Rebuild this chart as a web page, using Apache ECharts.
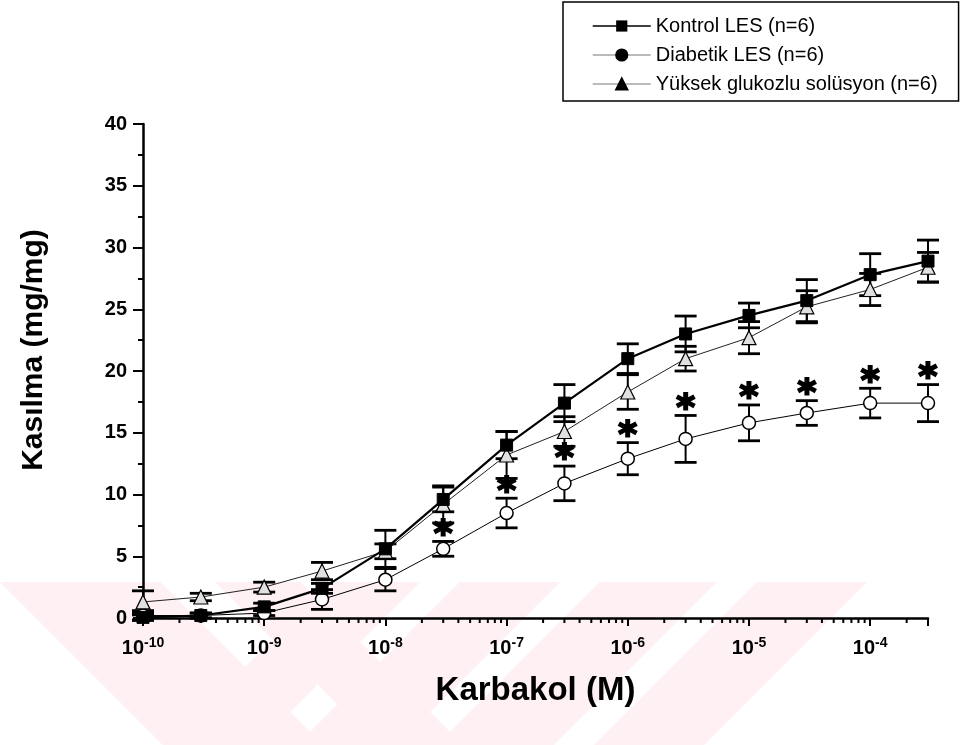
<!DOCTYPE html>
<html><head><meta charset="utf-8">
<script src="https://cdn.jsdelivr.net/npm/echarts@6/dist/echarts.min.js"></script>
<style>html,body{margin:0;padding:0;background:#fff}#c{width:966px;height:745px}</style>
</head><body><div id="c"></div>
<script>
// ---- data ----
const concentrations = [1e-10,3e-10,1e-9,3e-9,1e-8,3e-8,1e-7,3e-7,1e-6,3e-6,1e-5,3e-5,1e-4,3e-4];
const seriesNames = ['Kontrol LES (n=6)','Diabetik LES (n=6)','Yüksek glukozlu solüsyon (n=6)'];
const kontrolMean  = [0.05,0.2,0.9,2.4,5.6,9.6,14.0,17.4,21.0,23.0,24.5,25.7,27.8,28.9];
const kontrolSem   = [0.2,0.2,0.3,0.4,1.5,1.0,1.1,1.5,1.2,1.45,1.0,1.7,1.7,1.7];
const diabetikMean = [0.2,0.2,0.4,1.5,3.1,5.6,8.5,10.9,12.9,14.5,15.8,16.6,17.4,17.4];
const diabetikSem  = [0.4,0.2,0.2,0.8,0.9,0.6,1.2,1.4,1.3,1.9,1.45,1.0,1.2,1.5];
const glukozMean   = [1.3,1.7,2.5,3.8,5.4,9.2,13.2,15.1,18.3,21.0,22.7,25.2,26.6,28.4];
const glukozSem    = [0.9,0.3,0.4,0.7,0.6,1.5,1.9,1.2,1.4,1.0,1.3,1.3,1.3,1.2];
const significant  = [0,0,0,0,0,1,1,1,1,1,1,1,1,1];
const xMin = 1e-10, xMax = 3e-4;
const yMin = 0, yMax = 40, yStep = 5;
const xTitle = 'Karbakol (M)';
const yTitle = 'Kasılma (mg/mg)';

// minor log ticks (2..9 × 10^n)
const minorTickValues = [];
for (let e = -10; e <= -4; e++) {
  for (let k = 2; k <= 9; k++) {
    const v = k * Math.pow(10, e);
    if (v <= xMax * 1.0001) minorTickValues.push(v);
  }
}

const FONT = "'Liberation Sans', Arial, sans-serif";

function errorSeries(mean, sem, flags) {
  return {
    type: 'custom', z: 2, silent: true, clip: false,
    data: concentrations.map((c, i) => [c, mean[i] - sem[i], mean[i] + sem[i], flags ? flags[i] : 0]),
    encode: { x: 0, y: [1, 2] },
    renderItem(params, api) {
      const x = api.value(0);
      const lo = api.coord([x, api.value(1)]);
      const hi = api.coord([x, api.value(2)]);
      const hw = 11;
      const children = [
        { type: 'line', shape: { x1: lo[0], y1: lo[1], x2: hi[0], y2: hi[1] }, style: { stroke: '#000', lineWidth: 2 } },
        { type: 'line', shape: { x1: lo[0] - hw, y1: lo[1], x2: lo[0] + hw, y2: lo[1] }, style: { stroke: '#000', lineWidth: 2.8 } },
        { type: 'line', shape: { x1: hi[0] - hw, y1: hi[1], x2: hi[0] + hw, y2: hi[1] }, style: { stroke: '#000', lineWidth: 2.8 } }
      ];
      if (api.value(3)) {
        children.push({ type: 'text', x: hi[0], y: hi[1] - 6,
          style: { text: '*', font: "bold 36px 'DejaVu Sans', sans-serif", align: 'center', verticalAlign: 'middle',
                   fill: '#000', stroke: '#000', lineWidth: 2 } });
      }
      return { type: 'group', children };
    }
  };
}

function pt(mean) { return concentrations.map((c, i) => [c, mean[i]]); }

// decorative faint watermark bands
const wm = [];
const topY = 582, botY = 745, dy = botY - topY;
[[0,160],[215,300]].forEach(b => wm.push({ type:'polygon', silent:true, z:-100,
  shape:{ points:[[b[0],topY],[b[1],topY],[b[1]+dy,botY],[b[0]+dy,botY]] }, style:{ fill:'#fef0f3' } }));
[[330,420],[460,560],[600,717],[757,867]].forEach(b => wm.push({ type:'polygon', silent:true, z:-100,
  shape:{ points:[[b[0],topY],[b[1],topY],[b[1]-dy,botY],[b[0]-dy,botY]] }, style:{ fill:'#fef0f3' } }));

const chart = echarts.init(document.getElementById('c'), null, { renderer: 'canvas' });
chart.setOption({
  animation: false,
  backgroundColor: '#fff',
  graphic: wm,
  grid: { left: 143, right: 38, top: 124, bottom: 127, containLabel: false },
  legend: {
    orient: 'vertical', left: 563, top: 2,
    padding: [14, 21, 7, 29], itemGap: 9, itemWidth: 58, itemHeight: 14,
    borderColor: '#000', borderWidth: 1.5, backgroundColor: '#fff',
    selectedMode: false,
    textStyle: { fontSize: 20, fontFamily: FONT, color: '#000', lineHeight: 20 },
    data: [
      { name: seriesNames[0], itemStyle: { color: '#000', borderColor: '#000' }, lineStyle: { color: '#000', width: 1.5 } },
      { name: seriesNames[1], itemStyle: { color: '#000', borderColor: '#000' }, lineStyle: { color: '#777', width: 1 } },
      { name: seriesNames[2], itemStyle: { color: '#000', borderColor: '#000' }, lineStyle: { color: '#777', width: 1 } }
    ]
  },
  xAxis: {
    type: 'log', logBase: 10, min: xMin, max: xMax,
    name: xTitle, nameLocation: 'middle', nameGap: 56,
    nameTextStyle: { fontSize: 33, fontWeight: 'bold', fontFamily: FONT, color: '#000' },
    axisLine: { lineStyle: { color: '#000', width: 2.5 } },
    axisTick: { inside: false, length: 8, lineStyle: { color: '#000', width: 2 } },
    splitLine: { show: false },
    axisLabel: {
      margin: 18,
      formatter: function (v) {
        const l = Math.log10(v), e = Math.round(l);
        if (Math.abs(l - e) > 0.01) return '';
        return '{b|10}{s|' + e + '}';
      },
      rich: {
        b: { fontSize: 20, fontWeight: 'bold', fontFamily: FONT, color: '#000', lineHeight: 24 },
        s: { fontSize: 14, fontWeight: 'bold', fontFamily: FONT, color: '#000', verticalAlign: 'top', lineHeight: 14 }
      }
    }
  },
  yAxis: {
    type: 'value', min: yMin, max: yMax, interval: yStep,
    name: yTitle, nameLocation: 'middle', nameGap: 94, nameRotate: 90,
    nameTextStyle: { fontSize: 30, fontWeight: 'bold', fontFamily: FONT, color: '#000', padding: [0, 0, 0, 42] },
    axisLine: { show: true, lineStyle: { color: '#000', width: 2.5 } },
    axisTick: { show: true, inside: false, length: 10, lineStyle: { color: '#000', width: 2 } },
    minorTick: { show: true, splitNumber: 2, length: 5, lineStyle: { color: '#000', width: 2 } },
    splitLine: { show: false },
    axisLabel: { margin: 16, fontSize: 20, fontWeight: 'bold', fontFamily: FONT, color: '#000' }
  },
  series: [
    {
      type: 'custom', silent: true, clip: false, z: 1,
      data: minorTickValues.map(v => [v]),
      encode: { x: 0 },
      renderItem(params, api) {
        const p = api.coord([api.value(0), yMin]);
        return { type: 'line', shape: { x1: p[0], y1: p[1], x2: p[0], y2: p[1] + 5 }, style: { stroke: '#000', lineWidth: 2 } };
      }
    },
    errorSeries(kontrolMean, kontrolSem, null),
    errorSeries(glukozMean, glukozSem, null),
    errorSeries(diabetikMean, diabetikSem, significant),
    {
      name: seriesNames[1], type: 'line', data: pt(diabetikMean), z: 4,
      symbol: 'circle', symbolSize: 13,
      itemStyle: { color: '#fff', borderColor: '#000', borderWidth: 1.5 },
      lineStyle: { color: '#000', width: 1 }
    },
    {
      name: seriesNames[2], type: 'line', data: pt(glukozMean), z: 5,
      symbol: 'triangle', symbolSize: 14,
      itemStyle: { color: '#e0e0e0', borderColor: '#000', borderWidth: 1.2 },
      lineStyle: { color: '#222', width: 1 }
    },
    {
      name: seriesNames[0], type: 'line', data: pt(kontrolMean), z: 6,
      symbol: 'rect', symbolSize: 12,
      itemStyle: { color: '#000', borderColor: '#000' },
      lineStyle: { color: '#000', width: 2.2 }
    }
  ]
});
</script>
</body></html>
